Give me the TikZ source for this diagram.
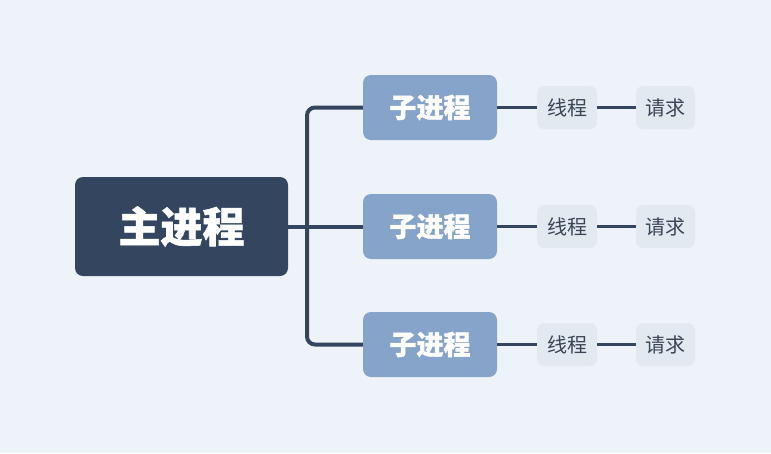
\documentclass[tikz,border=0pt]{standalone}
\usepackage{fontspec}
\newfontfamily\cjk{Noto Sans CJK SC}[BoldFeatures={FakeBold=1.3}]
\definecolor{bgcol}{HTML}{EDF3F9}
\definecolor{maincol}{HTML}{34465F}
\definecolor{subcol}{HTML}{86A3C9}
\definecolor{leafcol}{HTML}{E2E9F1}
\definecolor{leaftext}{HTML}{3A4556}
\begin{document}
\begin{tikzpicture}[x=1pt,y=-1pt,
	mainbox/.style={fill=maincol,rounded corners=8pt,minimum width=213pt,minimum height=99pt,inner sep=0pt,text=white,font=\cjk\bfseries\fontsize{42}{42}\selectfont},
	subbox/.style={fill=subcol,rounded corners=8pt,minimum width=134pt,minimum height=65pt,inner sep=0pt,text=white,font=\cjk\bfseries\fontsize{27}{27}\selectfont},
	leafbox/.style={fill=leafcol,rounded corners=7pt,minimum width=60pt,minimum height=43pt,inner sep=0pt,text=leaftext,font=\cjk\fontsize{20}{20}\selectfont},
	trunkline/.style={draw=maincol,line width=4pt,rounded corners=8pt},
	leafline/.style={draw=maincol,line width=2.5pt}]
	\fill[bgcol] (0,0) rectangle (771,453);
	\useasboundingbox (0,0) rectangle (771,453);
	\node[mainbox] (main) at (181.5,226.5) {主进程};
	\coordinate (trunk) at (307,226.5);
	\foreach \i/\y in {1/107.5,2/226.5,3/344.5}{
		\node[subbox] (sub\i) at (430,\y) {子进程};
		\node[leafbox] (thread\i) at (567,\y) {线程};
		\node[leafbox,minimum width=59pt] (req\i) at (665.5,\y) {请求};
		\draw[leafline] (sub\i) -- (thread\i);
		\draw[leafline] (thread\i) -- (req\i);
	}
	\draw[trunkline] (sub1.west) -| (trunk) |- (sub3.west);
	\draw[trunkline] (main.east) -- (sub2.west);
\end{tikzpicture}
\end{document}
